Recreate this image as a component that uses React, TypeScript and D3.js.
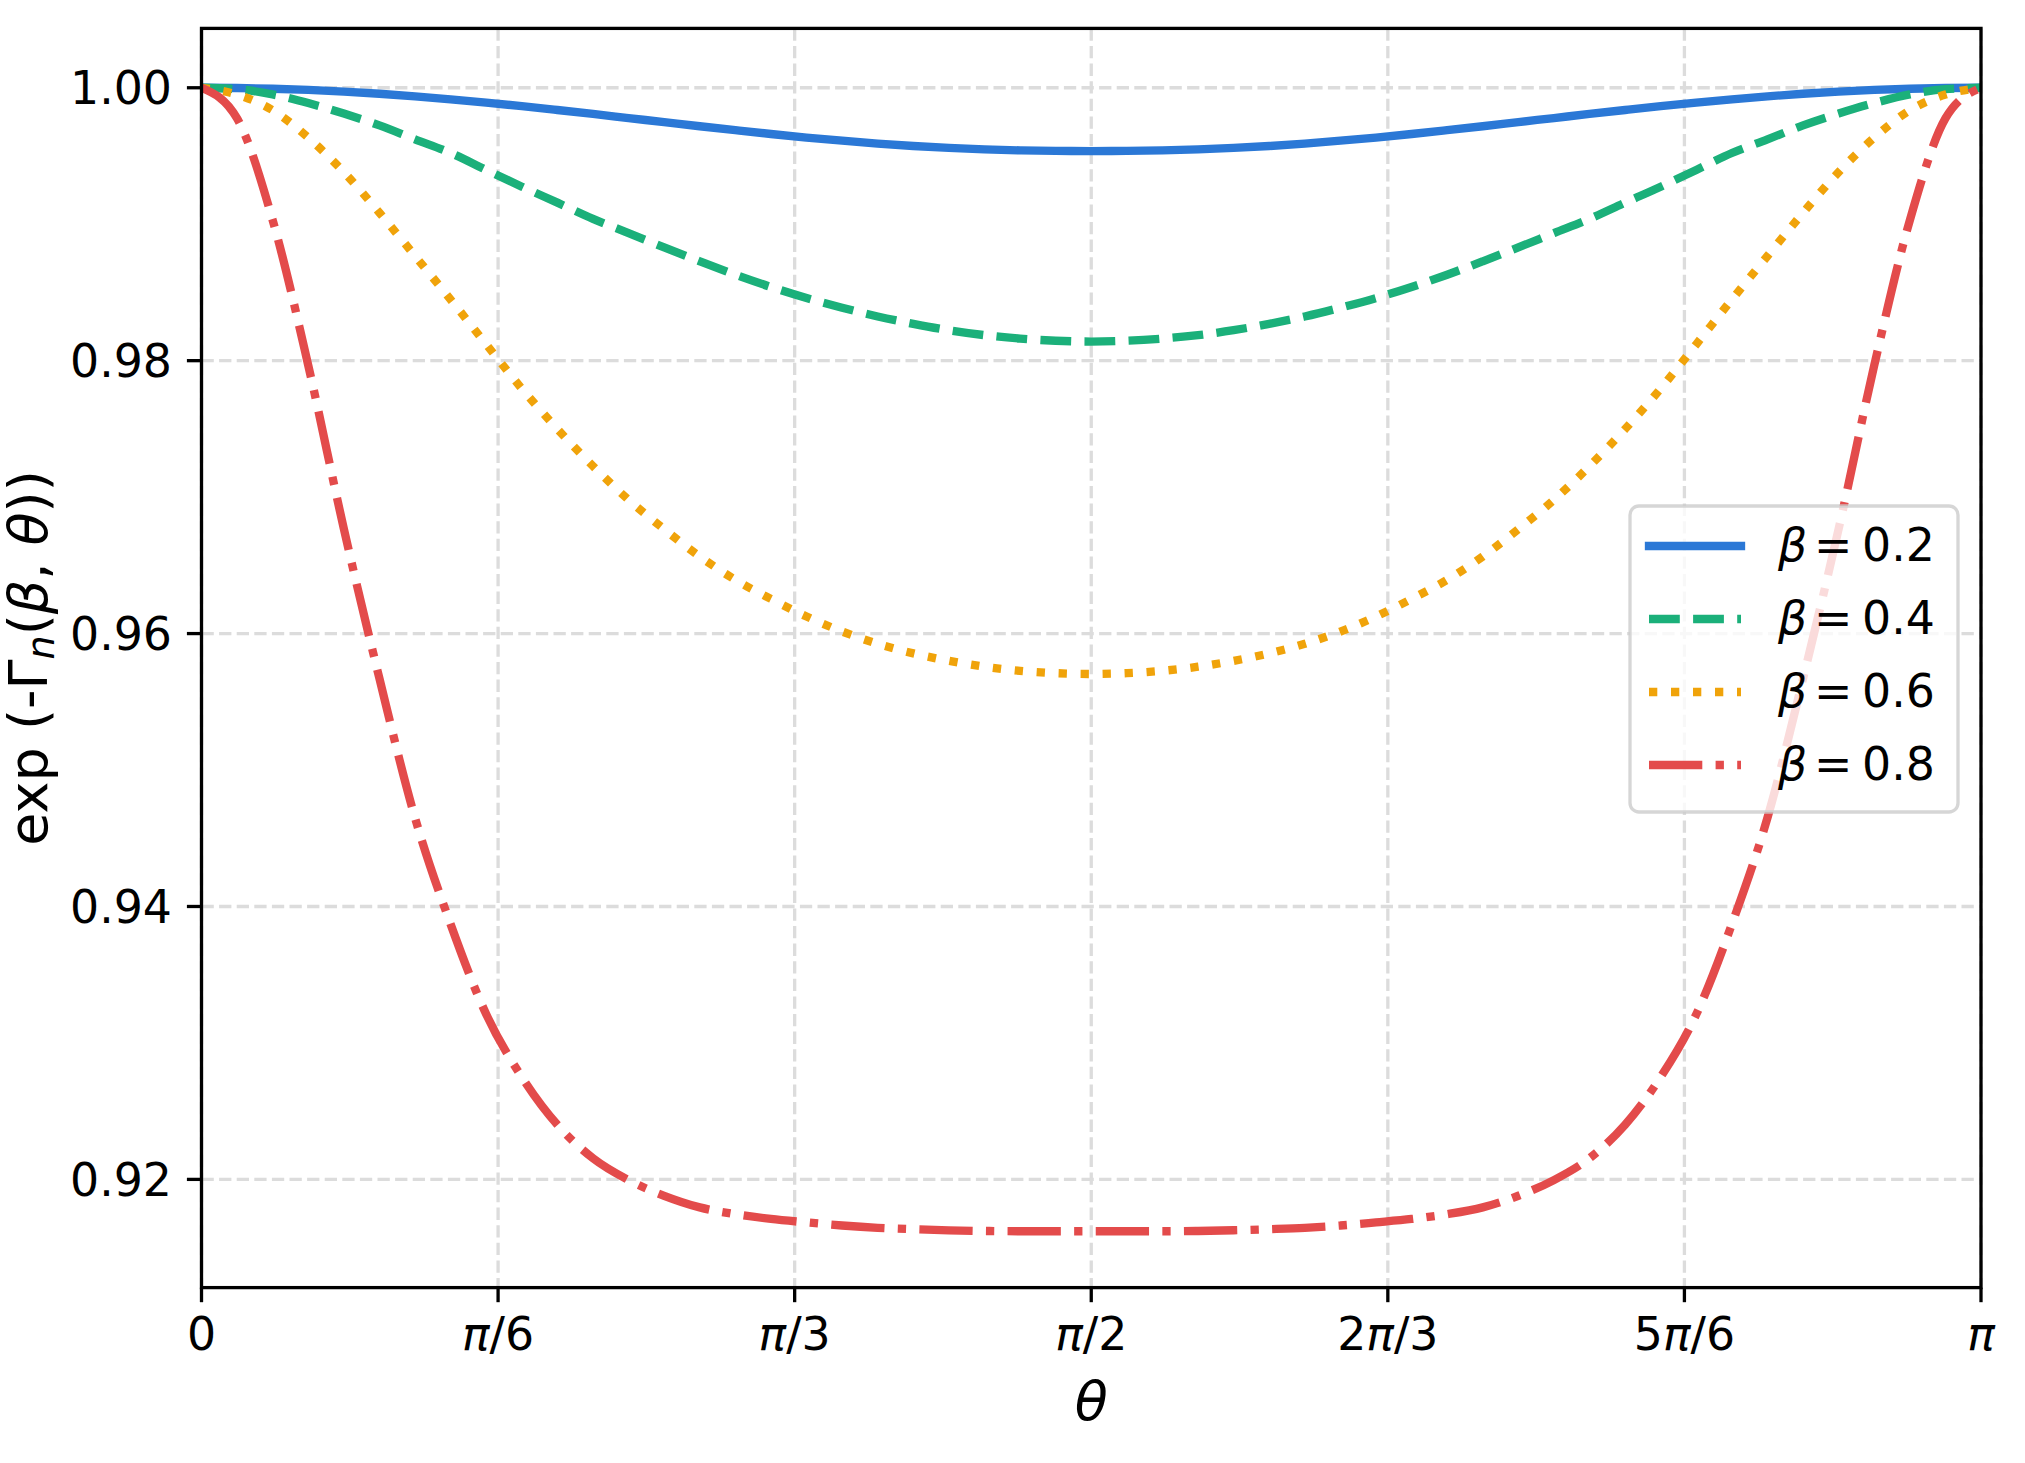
import React from "react";
import * as d3 from "d3";

// theta in units of pi
const thetaOverPi = [
  0, 0.02, 0.04, 0.06, 0.08, 0.1, 0.12, 0.14, 0.16, 0.18, 0.2, 0.22, 0.24, 0.26, 0.28, 0.3, 0.32, 0.34,
  0.36, 0.38, 0.4, 0.42, 0.44, 0.46, 0.48, 0.5, 0.52, 0.54, 0.56, 0.58, 0.6, 0.62, 0.64, 0.66, 0.68,
  0.7, 0.72, 0.74, 0.76, 0.78, 0.8, 0.82, 0.84, 0.86, 0.88, 0.9, 0.92, 0.94, 0.96, 0.98, 1.0,
];

const beta02 = [
  1.0, 0.99998, 0.99993, 0.99984, 0.99972, 0.99956, 0.99937, 0.99915, 0.99891, 0.99865, 0.99837,
  0.99808, 0.99778, 0.99748, 0.99718, 0.99689, 0.99661, 0.99635, 0.99612, 0.99591, 0.99573, 0.99559,
  0.99548, 0.99541, 0.99537, 0.99536, 0.99537, 0.99541, 0.99548, 0.99559, 0.99573, 0.99591, 0.99612,
  0.99635, 0.99661, 0.99689, 0.99718, 0.99748, 0.99778, 0.99808, 0.99837, 0.99865, 0.99891, 0.99915,
  0.99937, 0.99956, 0.99972, 0.99984, 0.99993, 0.99998, 1.0,
];

const beta04 = [
  1.0, 0.9999, 0.99951, 0.99888, 0.99811, 0.99724, 0.99622, 0.99522, 0.99398, 0.99275, 0.99158,
  0.99039, 0.98935, 0.9883, 0.98728, 0.9863, 0.9854, 0.98459, 0.98388, 0.98324, 0.9827, 0.98223,
  0.98187, 0.98162, 0.98146, 0.9814, 0.98146, 0.98162, 0.98187, 0.98223, 0.9827, 0.98324, 0.98388,
  0.98459, 0.9854, 0.9863, 0.98728, 0.9883, 0.98935, 0.99039, 0.99158, 0.99275, 0.99398, 0.99522,
  0.99622, 0.99724, 0.99811, 0.99888, 0.99951, 0.9999, 1.0,
];

const beta06 = [
  1.0, 0.9995, 0.99835, 0.99634, 0.99382, 0.99084, 0.98767, 0.98448, 0.9812, 0.97795, 0.97499,
  0.97227, 0.9698, 0.96765, 0.96565, 0.96394, 0.96254, 0.96125, 0.96015, 0.95925, 0.95855, 0.958,
  0.95757, 0.95727, 0.9571, 0.95704, 0.9571, 0.95727, 0.95757, 0.958, 0.95855, 0.95925, 0.96015,
  0.96125, 0.96254, 0.96394, 0.96565, 0.96765, 0.9698, 0.97227, 0.97499, 0.97795, 0.9812, 0.98448,
  0.98767, 0.99084, 0.99382, 0.99634, 0.99835, 0.9995, 1.0,
];

const beta08 = [
  1.0, 0.99775, 0.99029, 0.97965, 0.96767, 0.9567, 0.9465, 0.9387, 0.9321, 0.9275, 0.924, 0.92155,
  0.91995, 0.9188, 0.91795, 0.91745, 0.9171, 0.91685, 0.91662, 0.91645, 0.91635, 0.91627, 0.91622,
  0.9162, 0.9162, 0.9162, 0.9162, 0.9162, 0.91622, 0.91627, 0.91635, 0.91645, 0.91662, 0.91685,
  0.9171, 0.91745, 0.91795, 0.9188, 0.91995, 0.92155, 0.924, 0.9275, 0.9321, 0.9387, 0.9465, 0.9567,
  0.96767, 0.97965, 0.99029, 0.99775, 1.0,
];

const betaLabels = ["0.2", "0.4", "0.6", "0.8"];
const lineColors = ["#2b78d6", "#1bb07a", "#f0a30a", "#e34b4b"];

const yTicks = [0.92, 0.94, 0.96, 0.98, 1.0];
const xTickFracs = [0, 1 / 6, 1 / 3, 1 / 2, 2 / 3, 5 / 6, 1];
const xTickLabels = ["0", "π/6", "π/3", "π/2", "2π/3", "5π/6", "π"];

const W = 2025;
const H = 1463;
const left = 201.5;
const right = 1981;
const top = 28.4;
const bottom = 1287.6;
const FONT = "DejaVu Sans, sans-serif";
const lw = 8.33;
const dashes = [null, "30.8,13.3", "8.3,13.7", "53.3,13.3,8.3,13.3"];

// renders a label with every pi in italic
let mathLabel = (s: string) =>
  s.split("").map((ch, i) => (
    <tspan key={i} fontStyle={ch === "π" ? "italic" : "normal"}>
      {ch}
    </tspan>
  ));

const App = () => {
  let x = d3.scaleLinear().domain([0, Math.PI]).range([left, right]);
  let y = d3.scaleLinear().domain([0.91207, 1.00435]).range([bottom, top]);

  let allSeries = [beta02, beta04, beta06, beta08];

  let line = d3
    .line<number>()
    .x((d, i) => x(thetaOverPi[i] * Math.PI))
    .y((d) => y(d))
    .curve(d3.curveMonotoneX);

  // legend layout
  const legX = 1630;
  const legY = 506;
  const legW = 328;
  const legH = 306;
  const rowY = [546, 619, 692, 765];

  return (
    <svg
      width={W}
      height={H}
      style={{ position: "absolute", left: 0, top: 0, background: "white" }}
      fontFamily={FONT}
    >
      <defs>
        <clipPath id="plot-clip">
          <rect x={left} y={top} width={right - left} height={bottom - top} />
        </clipPath>
      </defs>

      {/* grid */}
      <g stroke="#dcdcdc" strokeWidth={3.3} strokeDasharray="12.3,5.3">
        {xTickFracs.map((f, i) => (
          <line key={"gx" + i} x1={x(f * Math.PI)} x2={x(f * Math.PI)} y1={top} y2={bottom} />
        ))}
        {yTicks.map((t, i) => (
          <line key={"gy" + i} x1={left} x2={right} y1={y(t)} y2={y(t)} />
        ))}
      </g>

      {/* curves */}
      <g clipPath="url(#plot-clip)" fill="none">
        {allSeries.map((vals, i) => (
          <path
            key={"s" + i}
            d={line(vals) || ""}
            stroke={lineColors[i]}
            strokeWidth={lw}
            strokeDasharray={dashes[i] || undefined}
            strokeLinecap={dashes[i] ? "butt" : "square"}
            strokeLinejoin="round"
          />
        ))}
      </g>

      {/* spines */}
      <rect
        x={left}
        y={top}
        width={right - left}
        height={bottom - top}
        fill="none"
        stroke="black"
        strokeWidth={3.3}
      />

      {/* y ticks */}
      {yTicks.map((t, i) => (
        <g key={"yt" + i}>
          <line x1={left - 14.6} x2={left} y1={y(t)} y2={y(t)} stroke="black" strokeWidth={3.3} />
          <text x={172} y={y(t) + 16.7} textAnchor="end" fontSize={45.8}>
            {t.toFixed(2)}
          </text>
        </g>
      ))}

      {/* x ticks */}
      {xTickFracs.map((f, i) => (
        <g key={"xt" + i}>
          <line
            x1={x(f * Math.PI)}
            x2={x(f * Math.PI)}
            y1={bottom}
            y2={bottom + 14.6}
            stroke="black"
            strokeWidth={3.3}
          />
          <text x={x(f * Math.PI)} y={1350} textAnchor="middle" fontSize={45.8}>
            {mathLabel(xTickLabels[i])}
          </text>
        </g>
      ))}

      {/* axis labels */}
      <text x={(left + right) / 2} y={1420} textAnchor="middle" fontSize={54} fontStyle="italic">
        θ
      </text>
      <text transform={"translate(47, 658) rotate(-90)"} textAnchor="middle" fontSize={54}>
        <tspan>exp (-Γ</tspan>
        <tspan fontStyle="italic" fontSize={38} dy={7}>
          n
        </tspan>
        <tspan dy={-7}>(</tspan>
        <tspan fontStyle="italic">β</tspan>
        <tspan>, </tspan>
        <tspan fontStyle="italic">θ</tspan>
        <tspan>))</tspan>
      </text>

      {/* legend */}
      <rect
        x={legX}
        y={legY}
        width={legW}
        height={legH}
        rx={9}
        fill="white"
        fillOpacity={0.8}
        stroke="#cccccc"
        strokeOpacity={0.8}
        strokeWidth={3.3}
      />
      {betaLabels.map((b, i) => (
        <g key={"leg" + i}>
          <line
            x1={1649}
            x2={1741}
            y1={rowY[i]}
            y2={rowY[i]}
            stroke={lineColors[i]}
            strokeWidth={lw}
            strokeDasharray={dashes[i] || undefined}
            strokeLinecap={dashes[i] ? "butt" : "square"}
          />
          <text y={rowY[i] + 15} fontSize={45.8}>
            <tspan x={1778} fontStyle="italic">
              β
            </tspan>
            <tspan x={1814}>=</tspan>
            <tspan x={1862}>{b}</tspan>
          </text>
        </g>
      ))}
    </svg>
  );
};

export default App;
